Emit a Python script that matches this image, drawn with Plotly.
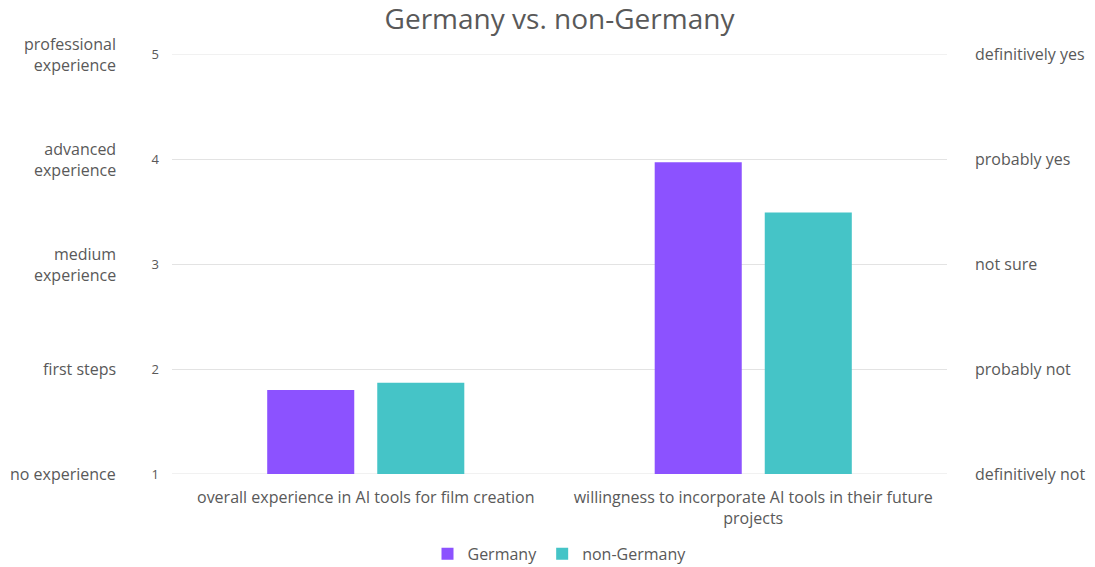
import plotly.graph_objects as go

categories = [
    "overall experience in AI tools for film creation",
    "willingness to incorporate AI tools in their future<br>projects",
]
germany = [1.80, 3.97]
non_germany = [1.87, 3.49]

scale_values = [1, 2, 3, 4, 5]
experience_labels = [
    "no experience",
    "first steps",
    "medium<br>experience",
    "advanced<br>experience",
    "professional<br>experience",
]
willingness_labels = [
    "definitively not",
    "probably not",
    "not sure",
    "probably yes",
    "definitively yes",
]

FONT = "Open Sans"
TEXT = "#595959"
GRID = "#e3e3e3"
Y_RANGE = [1, 5]

fig = go.Figure()
fig.add_trace(go.Bar(name="Germany", x=categories, y=germany,
                     marker=dict(color="#8C52FF", line=dict(width=0)),
                     base=0))
fig.add_trace(go.Bar(name="non-Germany", x=categories, y=non_germany,
                     marker=dict(color="#45C4C7", line=dict(width=0)),
                     base=0))
# empty trace so the secondary (right) scale axis is rendered
fig.add_trace(go.Scatter(x=[], y=[], yaxis="y2", showlegend=False,
                         hoverinfo="skip"))

annotations = [
    dict(text=lab, x=-0.07, xref="paper", y=v, yref="y",
         xanchor="right", yanchor="middle", align="right",
         showarrow=False, font=dict(family=FONT, size=16, color=TEXT))
    for v, lab in zip(scale_values, experience_labels)
]

# gridlines on the range edges (plotly skips those automatically)
edge_lines = [
    dict(type="line", xref="paper", x0=0, x1=1, yref="y", y0=v, y1=v,
         line=dict(color=GRID, width=1), layer="below")
    for v in (Y_RANGE[0], Y_RANGE[1])
]

fig.update_layout(
    width=1095, height=567,
    margin=dict(l=172, r=148, t=54, b=93, autoexpand=False),
    paper_bgcolor="white", plot_bgcolor="white",
    font=dict(family=FONT, color=TEXT),
    title=dict(text="Germany vs. non-Germany", x=0.5, xanchor="center",
               xref="paper", y=0.966, yanchor="middle",
               font=dict(family=FONT, size=28, color=TEXT)),
    barmode="group", bargap=0.432, bargroupgap=0.209,
    xaxis=dict(showgrid=False, showline=False, ticks="", automargin=False,
               ticklabelstandoff=12,
               tickfont=dict(family=FONT, size=16, color=TEXT)),
    yaxis=dict(range=Y_RANGE, tickvals=scale_values,
               ticktext=[str(v) for v in scale_values],
               showgrid=True, gridcolor=GRID, gridwidth=1,
               zeroline=False, showline=False, ticks="", automargin=False,
               ticklabelstandoff=12,
               tickfont=dict(family=FONT, size=13, color=TEXT)),
    yaxis2=dict(range=Y_RANGE, overlaying="y", side="right",
                tickvals=scale_values, ticktext=willingness_labels,
                showgrid=False, zeroline=False, showline=False, ticks="",
                automargin=False, ticklabelstandoff=27,
                tickfont=dict(family=FONT, size=16, color=TEXT)),
    legend=dict(orientation="h", x=0.5, xanchor="center",
                y=-0.19, yanchor="middle",
                font=dict(family=FONT, size=16, color=TEXT)),
    shapes=edge_lines,
    annotations=annotations,
)

fig.write_html("out.html")
